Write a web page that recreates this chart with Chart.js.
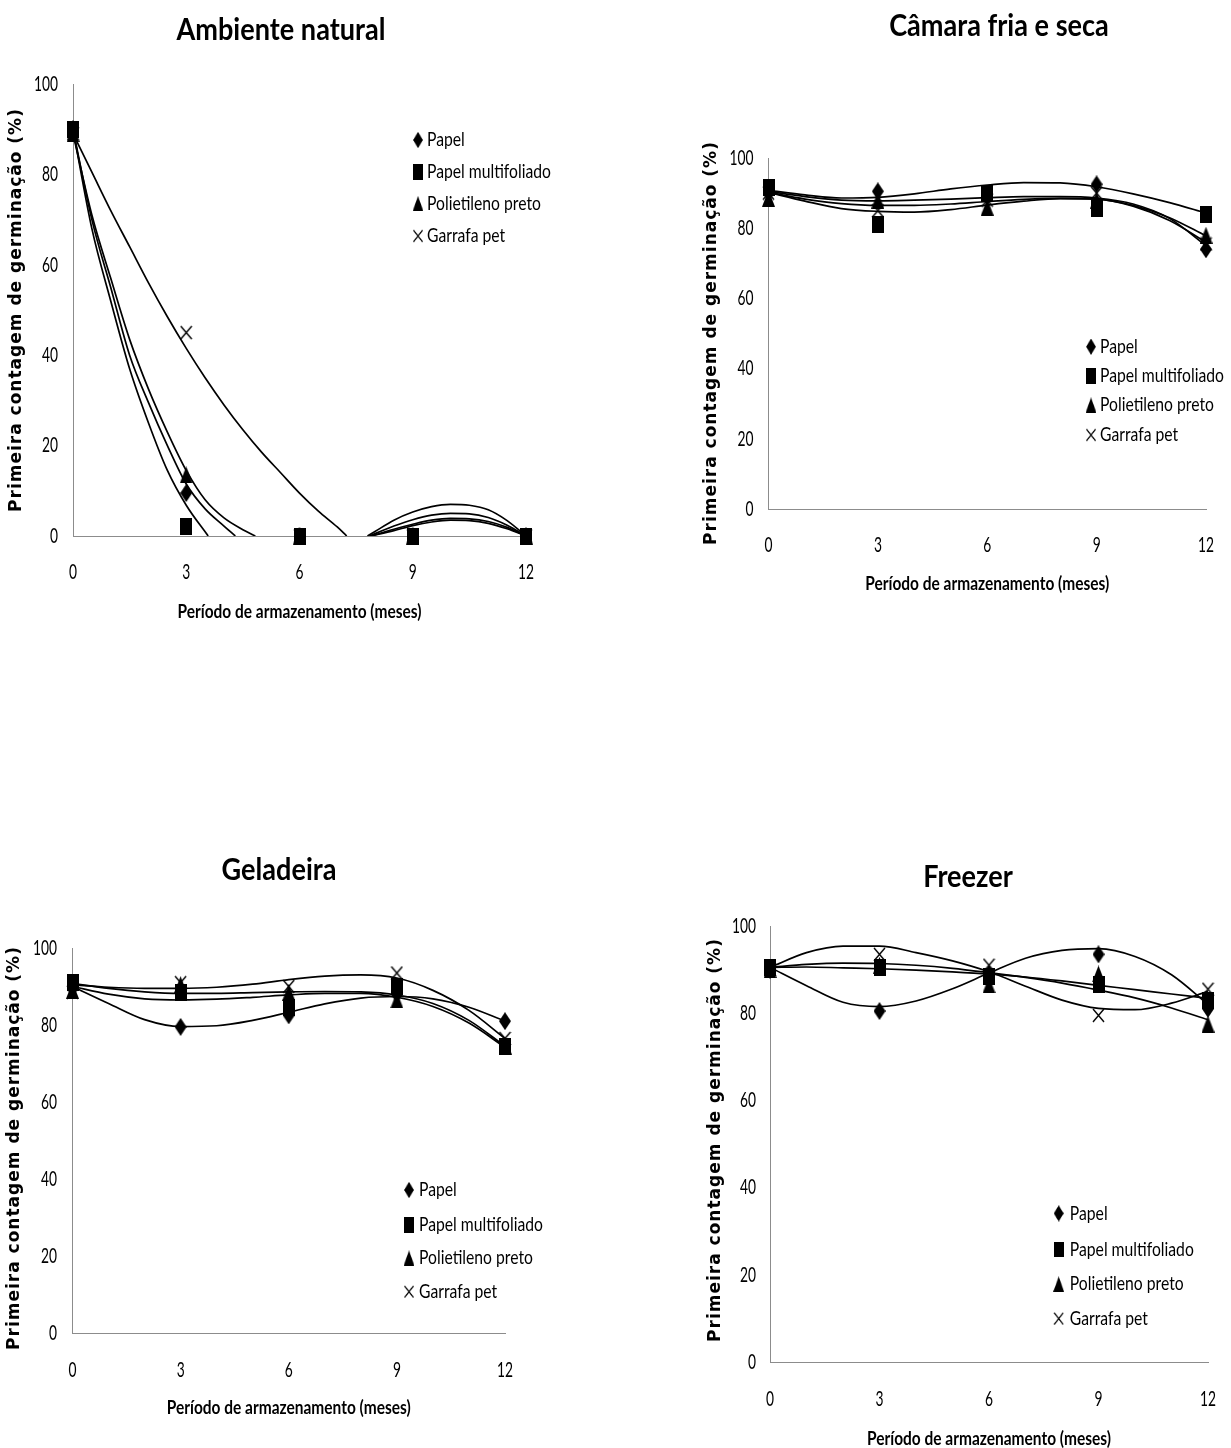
<!DOCTYPE html>
<html lang="pt-BR">
<head>
<meta charset="utf-8">
<title>Primeira contagem de germinação</title>
<script src="https://cdn.jsdelivr.net/npm/chart.js@4.4.1/dist/chart.umd.min.js"></script>
<style>
  html, body { margin: 0; padding: 0; background: #fff; }
  body { position: relative; width: 1231px; height: 1448px; overflow: hidden; }
  canvas { position: absolute; }
</style>
</head>
<body>
<canvas id="amb" style="left:0;top:0" width="615" height="690"></canvas>
<canvas id="cam" style="left:615px;top:0" width="616" height="690"></canvas>
<canvas id="gel" style="left:0;top:690px" width="615" height="758"></canvas>
<canvas id="frz" style="left:615px;top:690px" width="616" height="758"></canvas>
<script>
// Períodos de armazenamento avaliados e rótulos dos eixos
const meses = [0, 3, 6, 9, 12];
const ticksX = [0, 3, 6, 9, 12];
const ticksY = [0, 20, 40, 60, 80, 100];
const embalagens = ['Papel', 'Papel multifoliado', 'Polietileno preto', 'Garrafa pet'];
const rotuloX = 'Período de armazenamento (meses)';
const rotuloY = 'Primeira contagem de germinação (%)';

// Meses em que as curvas de tendência foram lidas
const mesesCurva = [0, 1, 2, 3, 4, 5, 6, 7, 8, 9, 10, 11, 12];

// Ambiente natural (as curvas ficam ocultas enquanto estão abaixo de zero)
const ambPapel = [90, 9.5, 0, 0, 0];
const ambMulti = [90, 2, 0, 0, 0];
const ambPoli = [89, 13.5, 0, 0, 0];
const ambPet = [89, 45, 0, 0, 0];
const ambPapelMeses = [0, 0.5, 1, 1.5, 2, 2.5, 3, 3.5, 4, 4.3, 6, 7.9, 8.5, 9, 9.5, 10, 10.5, 11, 11.5, 12];
const ambPapelCurva = [90, 70, 55, 40, 29.5, 20, 11.5, 6, 2.2, 0, null, 0, 1.5, 2.6, 3.5, 3.9, 3.8, 3.2, 1.9, 0];
const ambMultiMeses = [0, 0.5, 1, 1.5, 2, 2.5, 3, 3.58, 6, 7.9, 8.5, 9, 9.5, 10, 10.5, 11, 11.5, 12];
const ambMultiCurva = [90, 68, 52, 37, 25, 14.5, 6.8, 0, null, 0, 1.2, 2.3, 3.1, 3.5, 3.4, 2.8, 1.6, 0];
const ambPoliMeses = [0, 0.5, 1, 1.5, 2, 2.5, 3, 3.5, 4, 4.5, 4.83, 6, 7.85, 8.5, 9, 9.5, 10, 10.5, 11, 11.5, 12];
const ambPoliCurva = [89, 71, 57, 43.5, 32.5, 23, 14.5, 8, 4, 1.4, 0, null, 0, 2.2, 3.6, 4.6, 5.0, 4.9, 4.1, 2.4, 0];
const ambPetMeses = [0, 0.5, 1, 1.5, 2, 2.5, 3, 3.5, 4, 4.5, 5, 5.5, 6, 6.5, 7, 7.25, 7.5, 7.8, 8, 8.5, 9, 9.5, 10, 10.5, 11, 11.5, 12];
const ambPetCurva = [89, 80.5, 72, 64, 56, 48.5, 41.5, 35, 29, 23.5, 18.5, 14, 9.5, 5.5, 2, 0, null, 0, 1, 3.5, 5.3, 6.5, 7.0, 6.8, 5.8, 3.4, 0];

// Câmara fria e seca
const camPapel = [90, 90.5, 89, 92.5, 74];
const camMulti = [91.5, 81, 90, 85.5, 84];
const camPoli = [88.5, 88, 86, 88, 78];
const camPet = [90, 85, 88, 90, 75.5];
const camPapelCurva = [90.5, 89, 88, 87.8, 88, 88.3, 88.7, 89, 89, 88.6, 86.9, 82.8, 75];
const camMultiCurva = [90.8, 89.5, 88.6, 88.8, 89.8, 91.2, 92.3, 93, 92.9, 91.8, 89.8, 87.3, 84.3];
const camPoliCurva = [90.2, 88.3, 87, 86.5, 86.5, 86.9, 87.6, 88.2, 88.5, 88.3, 86.5, 83, 77.8];
const camPetCurva = [90.2, 87.7, 85.6, 84.8, 84.6, 85.3, 86.6, 87.7, 88.4, 88.3, 86.3, 82.2, 76];

// Geladeira
const gelPapel = [89.5, 79.5, 82.5, 88, 81];
const gelMulti = [91, 88.5, 84.5, 90, 74.5];
const gelPoli = [89, 90.5, 88.5, 86.5, 74.5];
const gelPet = [88.5, 91, 90, 93.5, 76.5];
const gelPapelCurva = [90, 85.6, 81.4, 79.6, 79.8, 81.2, 83.3, 85.5, 87, 87.4, 86.8, 84.6, 81];
const gelMultiCurva = [90.8, 89.5, 88.6, 88.2, 88.2, 88.4, 88.6, 88.7, 88.6, 87.8, 85.6, 81.2, 74.5];
const gelPoliCurva = [90, 88, 86.8, 86.5, 86.7, 87.2, 87.8, 88.2, 88.2, 87.2, 84.8, 80.5, 74.2];
const gelPetCurva = [90.5, 89.8, 89.5, 89.5, 89.8, 90.6, 91.8, 92.7, 93, 92.2, 89, 83.8, 76.5];

// Freezer
const frzPapel = [90, 80.5, 89, 93.5, 81];
const frzMulti = [90.5, 90.5, 88.5, 86.5, 83];
const frzPoli = [90, 91, 86.5, 89, 77.5];
const frzPet = [90, 93.5, 91, 79.5, 85.5];
const frzPapelCurva = [90.5, 86.3, 82.5, 81.5, 82.8, 85.6, 89.2, 92.6, 94.4, 94.8, 93, 88.8, 82];
const frzMultiCurva = [90.5, 90.6, 90.4, 90.2, 89.9, 89.5, 89, 88.3, 87.4, 86.4, 85.4, 84.4, 83.4];
const frzPoliCurva = [90.5, 91.2, 91.5, 91.4, 91, 90.3, 89.3, 88.2, 86.9, 85.3, 83.5, 81.2, 78.5];
const frzPetCurva = [90.5, 93.9, 95.4, 95.4, 93.9, 92, 89.5, 86.2, 83, 81.1, 80.8, 82.3, 85];

// Tipografia: fonte humanista estreitada na horizontal até a largura desejada
const FONTE = 'Lato, "Open Sans", sans-serif';
const FONTE_EIXO_Y = '"DejaVu Sans", Verdana, sans-serif';
const LARG_TICK_100 = 24;      // largura do rótulo "100"
const LARG_LEGENDA = 124;      // largura de "Papel multifoliado"
const LARG_ROTULO_X = 244;     // largura do título do eixo X
const LARG_TITULO = 209;       // largura de "Ambiente natural"

function escrever(ctx, txt, x, y, align, fator) {
  ctx.save();
  ctx.translate(x, y);
  ctx.scale(fator, 1);
  ctx.textAlign = align;
  ctx.fillText(txt, 0, 0);
  ctx.restore();
}

// Marcadores desenhados em pequenos canvases (losango, quadrado, triângulo, xis)
function marcador(forma, w, h) {
  const c = document.createElement('canvas');
  c.width = w; c.height = h;
  const g = c.getContext('2d');
  g.fillStyle = '#000'; g.strokeStyle = '#000';
  g.beginPath();
  if (forma === 'losango') {
    g.moveTo(w / 2, 0); g.lineTo(w, h / 2); g.lineTo(w / 2, h); g.lineTo(0, h / 2); g.closePath(); g.fill();
  } else if (forma === 'quadrado') {
    g.fillRect(0, 0, w, h);
  } else if (forma === 'triangulo') {
    g.moveTo(w / 2, 0); g.lineTo(w, h); g.lineTo(0, h); g.closePath(); g.fill();
  } else {
    g.lineWidth = 1.4;
    g.moveTo(1, 1); g.lineTo(w - 1, h - 1); g.moveTo(w - 1, 1); g.lineTo(1, h - 1); g.stroke();
  }
  return c;
}
const formas = [
  marcador('losango', 12, 18),
  marcador('quadrado', 12, 17),
  marcador('triangulo', 13, 17),
  marcador('xis', 13, 15)
];
const ordemDesenho = [4, 1, 2, 3];

function pontos(xs, ys) {
  return xs.map((x, i) => ({ x: x, y: ys[i] }));
}

// Título do painel, rótulos dos eixos e legenda interna
const anotacoes = {
  id: 'anotacoes',
  afterDraw(chart, _args, o) {
    const ctx = chart.ctx;
    const area = chart.chartArea;
    const sx = chart.scales.x, sy = chart.scales.y;
    ctx.save();
    ctx.fillStyle = '#000';
    ctx.textBaseline = 'middle';

    // rótulos das marcas dos eixos
    ctx.font = '21px ' + FONTE;
    const fTick = LARG_TICK_100 / ctx.measureText('100').width;
    ticksX.forEach(v => escrever(ctx, String(v), sx.getPixelForValue(v), area.bottom + o.distTickX, 'center', fTick));
    ticksY.forEach(v => escrever(ctx, String(v), area.left - o.distTickY, sy.getPixelForValue(v), 'right', fTick));

    // título do eixo X
    ctx.font = 'bold 19px ' + FONTE;
    const fX = LARG_ROTULO_X / ctx.measureText(rotuloX).width;
    escrever(ctx, rotuloX, (area.left + area.right) / 2, area.bottom + o.distRotuloX, 'center', fX);

    // título do painel
    ctx.font = 'bold 31px ' + FONTE;
    const fT = LARG_TITULO / ctx.measureText('Ambiente natural').width;
    escrever(ctx, o.titulo, o.tituloX, o.tituloY, 'center', fT);

    // título do eixo Y
    ctx.save();
    ctx.translate(o.eixoX, o.eixoY);
    ctx.rotate(-Math.PI / 2);
    ctx.font = 'bold 17px ' + FONTE_EIXO_Y;
    if ('letterSpacing' in ctx) ctx.letterSpacing = '1px';
    ctx.textAlign = 'center';
    ctx.fillText(rotuloY, 0, 0);
    ctx.restore();

    // legenda
    ctx.font = '20px ' + FONTE;
    const fL = LARG_LEGENDA / ctx.measureText(embalagens[1]).width;
    chart.data.datasets.filter(d => d.legenda).forEach((d, i) => {
      const img = d.pointStyle;
      const w = img.width * 0.82, h = img.height * 0.9;
      const y = o.linhas[i];
      ctx.drawImage(img, o.marcaX - w / 2, y - h / 2, w, h);
      escrever(ctx, d.label, o.textoX, y, 'left', fL);
    });
    ctx.restore();
  }
};

function montarPainel(id, p) {
  const datasets = [];
  p.curvas.forEach(([xs, ys]) => {
    datasets.push({
      data: pontos(xs, ys),
      borderColor: '#000',
      borderWidth: 1.7,
      pointRadius: 0,
      fill: false,
      cubicInterpolationMode: 'monotone',
      spanGaps: false,
      order: 5
    });
  });
  p.valores.forEach((ys, i) => {
    datasets.push({
      label: embalagens[i],
      legenda: true,
      data: pontos(meses, ys),
      showLine: false,
      pointStyle: formas[i],
      pointRadius: 6,
      pointBackgroundColor: '#000',
      pointBorderColor: '#000',
      clip: false,
      order: ordemDesenho[i]
    });
  });

  new Chart(document.getElementById(id), {
    type: 'line',
    data: { datasets: datasets },
    options: {
      responsive: false,
      animation: false,
      events: [],
      layout: { padding: p.padding },
      plugins: {
        legend: { display: false },
        tooltip: { enabled: false },
        anotacoes: p.anot
      },
      scales: {
        x: {
          type: 'linear', min: 0, max: 12,
          afterBuildTicks: s => { s.ticks = ticksX.map(v => ({ value: v })); },
          afterFit: s => { s.height = p.altX; },
          grid: { display: false },
          border: { display: true, color: '#8c8c8c', width: 1 },
          ticks: { display: false }
        },
        y: {
          type: 'linear', min: 0, max: 100,
          afterBuildTicks: s => { s.ticks = ticksY.map(v => ({ value: v })); },
          afterFit: s => { s.width = p.largY; },
          grid: { display: false },
          border: { display: true, color: '#8c8c8c', width: 1 },
          ticks: { display: false }
        }
      }
    },
    plugins: [anotacoes]
  });
}

montarPainel('amb', {
  curvas: [[ambPapelMeses, ambPapelCurva], [ambMultiMeses, ambMultiCurva], [ambPoliMeses, ambPoliCurva], [ambPetMeses, ambPetCurva]],
  valores: [ambPapel, ambMulti, ambPoli, ambPet],
  padding: { left: 0, top: 84, right: 89, bottom: 54 },
  largY: 73, altX: 100,
  anot: { titulo: 'Ambiente natural', tituloX: 281, tituloY: 30, eixoX: 16.5, eixoY: 310,
          distTickX: 36, distTickY: 15, distRotuloX: 76,
          marcaX: 418, textoX: 427, linhas: [140, 172, 203.5, 236] }
});

montarPainel('cam', {
  curvas: [[mesesCurva, camPapelCurva], [mesesCurva, camMultiCurva], [mesesCurva, camPoliCurva], [mesesCurva, camPetCurva]],
  valores: [camPapel, camMulti, camPoli, camPet],
  padding: { left: 0, top: 158, right: 25, bottom: 81 },
  largY: 153.5, altX: 100,
  anot: { titulo: 'Câmara fria e seca', tituloX: 384, tituloY: 26, eixoX: 97, eixoY: 343,
          distTickX: 36, distTickY: 15, distRotuloX: 75,
          marcaX: 476, textoX: 485, linhas: [346.7, 376, 405, 435] }
});

montarPainel('gel', {
  curvas: [[mesesCurva, gelPapelCurva], [mesesCurva, gelMultiCurva], [mesesCurva, gelPoliCurva], [mesesCurva, gelPetCurva]],
  valores: [gelPapel, gelMulti, gelPoli, gelPet],
  padding: { left: 0, top: 258, right: 110, bottom: 15 },
  largY: 72.5, altX: 100,
  anot: { titulo: 'Geladeira', tituloX: 279, tituloY: 180, eixoX: 14.5, eixoY: 458,
          distTickX: 37, distTickY: 15.5, distRotuloX: 75,
          marcaX: 409, textoX: 419, linhas: [500, 535, 568, 601.7] }
});

montarPainel('frz', {
  curvas: [[mesesCurva, frzPapelCurva], [mesesCurva, frzMultiCurva], [mesesCurva, frzPoliCurva], [mesesCurva, frzPetCurva]],
  valores: [frzPapel, frzMulti, frzPoli, frzPet],
  padding: { left: 0, top: 236, right: 23, bottom: 0 },
  largY: 155, altX: 86,
  anot: { titulo: 'Freezer', tituloX: 353, tituloY: 187, eixoX: 101, eixoY: 450,
          distTickX: 37, distTickY: 14, distRotuloX: 77,
          marcaX: 443.7, textoX: 454.8, linhas: [523.4, 559.7, 594, 628.6] }
});
</script>
</body>
</html>
